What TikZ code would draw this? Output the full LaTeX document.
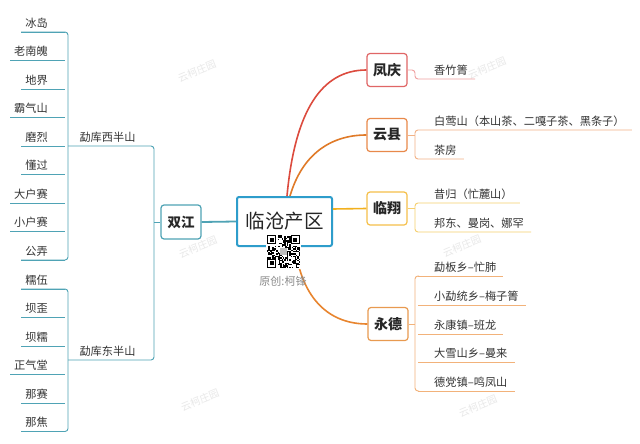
\documentclass[tikz,border=0pt]{standalone}
\usepackage{fontspec}
\setmainfont{Noto Sans CJK SC}
\definecolor{tealc}{HTML}{4FA3B5}
\definecolor{lcblue}{HTML}{2E9DCB}
\definecolor{redc}{HTML}{DC4B3E}
\definecolor{redbox}{HTML}{E06666}
\definecolor{redl}{HTML}{F0A0A0}
\definecolor{orc}{HTML}{E07A28}
\definecolor{orbox}{HTML}{E8894A}
\definecolor{orl}{HTML}{F2B286}
\definecolor{yec}{HTML}{F2B01E}
\definecolor{yebox}{HTML}{F5C04A}
\definecolor{yel}{HTML}{F6CF6E}
\definecolor{ydc}{HTML}{E8852F}
\definecolor{ydbox}{HTML}{E89A50}
\definecolor{ydl}{HTML}{F2B27A}
\definecolor{txtc}{HTML}{333333}
\begin{document}
\begin{tikzpicture}[x=1pt,y=-1pt,
  it/.style={font=\fontsize{11.2}{13}\selectfont, text=txtc, inner sep=2pt},
  tl/.style={draw=tealc, line width=0.9pt},
  sub/.style={line width=0.9pt},
  box/.style={draw, rounded corners=3pt, line width=1.2pt, minimum width=40pt, minimum height=33pt, inner sep=1pt, font=\fontsize{14}{16}\selectfont\bfseries, text=black!85},
  wm/.style={text=black!9, font=\fontsize{10}{12}\selectfont, rotate=22, inner sep=0pt},
  curve/.style={line width=1.6pt}
]
\useasboundingbox (0,0) rectangle (640,444);
\fill[white] (0,0) rectangle (640,444);

% watermarks
\node[wm] (w1) at (197,71) {云柯庄园};
\node[wm] (w2) at (487,68) {云柯庄园};
\node[wm] (w3) at (198,247) {云柯庄园};
\node[wm] (w4) at (462,246) {云柯庄园};
\node[wm] (w5) at (478,406) {云柯庄园};
\node[wm] (w6) at (200,400) {云柯庄园};

% left group 1
\foreach \t/\y/\n in {冰岛/32/1,老南魄/60.5/2,地界/89/3,霸气山/117.5/4,磨烈/146/5,懂过/174.5/6,大户赛/203/7,小户赛/231.5/8,公弄/260/9}{
  \node[it, anchor=east] (a\n) at (50,\y-9) {\t};
  \coordinate (ua\n) at ([xshift=-2pt]a\n.west |- 0,\y);
  \draw[tl] (ua\n) -- (65,\y);
}
\draw[tl, rounded corners=3pt] (ua1) -- (68,32) -- (68,260) -- (ua9);
% left group 2
\foreach \t/\y/\n in {糯伍/289/1,坝歪/317.5/2,坝糯/346/3,正气堂/374.5/4,那赛/403/5,那焦/431.5/6}{
  \node[it, anchor=east] (b\n) at (50,\y-9) {\t};
  \coordinate (ub\n) at ([xshift=-2pt]b\n.west |- 0,\y);
  \draw[tl] (ub\n) -- (65,\y);
}
\draw[tl, rounded corners=3pt] (ub1) -- (68,289) -- (68,431.5) -- (ub6);

\node[it] (wb) at (107.5,137) {勐库西半山};
\node[it] (eb) at (107.5,351) {勐库东半山};
\coordinate (ws) at (68,146);
\coordinate (es) at (68,360);
\coordinate (mid) at (154,222);
\draw[tl, rounded corners=3pt] (ws) -- (154,146) -- (154,360) -- (es);

\node[box, draw=tealc, minimum width=40pt, minimum height=34pt, font=\fontsize{13.5}{15}\selectfont\bfseries] (sj) at (181,222) {双江};
\draw[tl] (mid) -- (sj.west);

\node[draw=lcblue, line width=2pt, rounded corners=2pt, minimum width=95pt, minimum height=49pt, inner sep=1pt, font=\fontsize{19.5}{22}\selectfont, text=black!85] (lc) at (284.5,221.5) {临沧产区};
\draw[draw=tealc, line width=1.8pt] (sj.east) -- (lc.west);

% right boxes
\node[box, draw=redbox] (fq) at (387,70) {凤庆};
\node[box, draw=orbox] (yx) at (387,135) {云县};
\node[box, draw=yebox] (lx) at (387,208.5) {临翔};
\node[box, draw=ydbox] (yd) at (388,324) {永德};

% curves
\draw[curve, draw=redc] ([xshift=2.5pt]lc.north) .. controls (295,110) and (322,70) .. (fq.west);
\draw[curve, draw=orc] ([xshift=5.5pt]lc.north) .. controls (302,155) and (330,135) .. (yx.west);
\draw[curve, draw=yec] ([yshift=12.5pt]lc.east) .. controls (350,209) and (350,208.5) .. (lx.west);
\draw[curve, draw=ydc] ([xshift=10.5pt]lc.south) .. controls (302,300) and (330,324) .. (yd.west);

% 凤庆
\node[it, anchor=west] (f1) at (432,70) {香竹箐};
\draw[sub, draw=redl, rounded corners=3pt] (fq.east) -- (415,70) -- (415,79) -- ([xshift=5pt]f1.east |- 0,79);

% 云县
\node[it, anchor=west] (y1) at (432,121) {白莺山（本山茶、二嘎子茶、黑条子）};
\node[it, anchor=west] (y2) at (432,150) {茶房};
\draw[sub, draw=orl] (yx.east) -- (415,135);
\draw[sub, draw=orl, rounded corners=3pt] ([xshift=5pt]y1.east |- 0,130) -- (415,130) -- (415,159) -- ([xshift=5pt]y2.east |- 0,159);

% 临翔
\node[it, anchor=west] (l1) at (432,194) {昔归（忙麓山）};
\node[it, anchor=west] (l2) at (432,223) {邦东、曼岗、娜罕};
\draw[sub, draw=yel] (lx.east) -- (415,208.5);
\draw[sub, draw=yel, rounded corners=3pt] ([xshift=5pt]l1.east |- 0,203) -- (415,203) -- (415,232) -- ([xshift=5pt]l2.east |- 0,232);

% 永德
\foreach \t/\y/\n in {勐板乡–忙肺/276/1,小勐统乡–梅子箐/305/2,永康镇–班龙/334/3,大雪山乡–曼来/362.5/4,德党镇–鸣凤山/391/5}{
  \node[it, anchor=west] (d\n) at (432,\y-9) {\t};
  \draw[sub, draw=ydl] (418,\y) -- ([xshift=5pt]d\n.east |- 0,\y);
}
\draw[sub, draw=ydl] (yd.east) -- (415,324);
\draw[sub, draw=ydl, rounded corners=3pt] (419,276) -- (415,276) -- (415,391) -- (419,391);

% QR code
\fill[white] (266,234) rectangle (301,269);
\pgfmathsetseed{42}
\foreach \i in {0,...,24}{
  \foreach \j in {0,...,24}{
    \pgfmathtruncatemacro{\qq}{rnd<0.5 ? 1 : 0}
    \ifnum\qq=1 \fill[black] (267+\i*1.32,235+\j*1.32) rectangle ++(1.34,1.34);\fi
  }
}
\foreach \ox/\oy in {0/0,18/0,0/18}{
  \fill[white] (267+\ox*1.32,235+\oy*1.32) ++(-0.01,-0.01) rectangle ++(8*1.32,8*1.32);
  \fill[black] (267+\ox*1.32,235+\oy*1.32) rectangle ++(7*1.32,7*1.32);
  \fill[white] (267+\ox*1.32+1.32,235+\oy*1.32+1.32) rectangle ++(5*1.32,5*1.32);
  \fill[black] (267+\ox*1.32+2*1.32,235+\oy*1.32+2*1.32) rectangle ++(3*1.32,3*1.32);
}
\fill[black!25] (267+10*1.32,235+10*1.32) rectangle ++(5*1.32,5*1.32);
\node[font=\fontsize{11}{13}\selectfont, text=black!45, inner sep=1pt] (yc) at (283,281) {原创:柯锋};
\end{tikzpicture}
\end{document}
